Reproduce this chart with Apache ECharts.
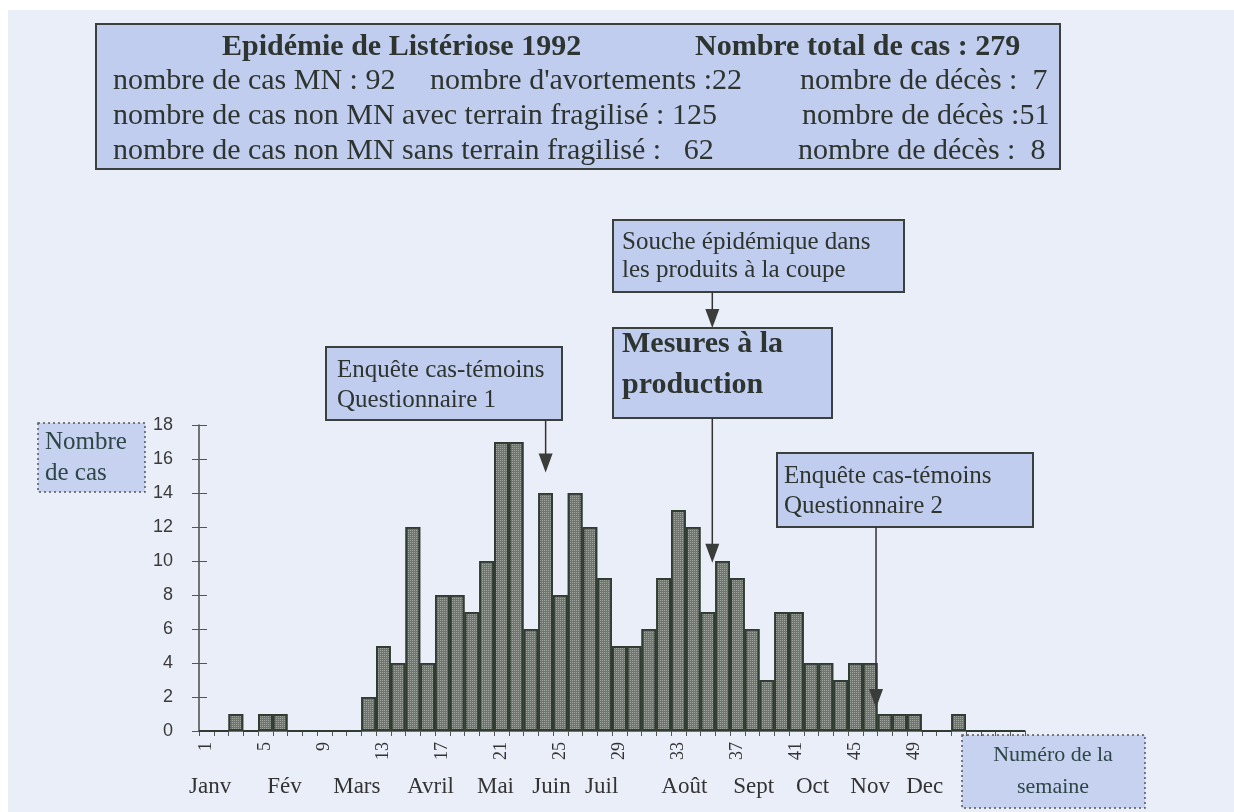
<!DOCTYPE html>
<html>
<head>
<meta charset="utf-8">
<script src="https://cdn.jsdelivr.net/npm/echarts@6/dist/echarts.min.js"></script>
<style>
  html, body { margin: 0; padding: 0; background: #fff; }
  #chart { width: 1234px; height: 812px; }
</style>
</head>
<body>
<div id="chart"></div>
<script>
// semaines 1992 (numéro de la semaine)
const weeks = ['1','2','3','4','5','6','7','8','9','10','11','12','13','14','15','16','17','18','19','20',
  '21','22','23','24','25','26','27','28','29','30','31','32','33','34','35','36','37','38','39','40',
  '41','42','43','44','45','46','47','48','49','50','51','52','53','54','55','56']
// nombre de cas par semaine
const cases = [0,0,1,0,1,1,0,0,0,0, 0,2,5,4,12,4,8,8,7,10, 17,17,6,14,8,14,12,9,5,5,
  6,9,13,12,7,10,9,6,3,7, 7,4,4,3,4,4,1,1,1,0, 0,1,0,0,0,0]
// mois, placés en numéro de semaine
const months = ['Janv','Fév','Mars','Avril','Mai','Juin','Juil','Août','Sept','Oct','Nov','Dec']
const monthWeeks = [1.25, 6.3, 11.2, 16.2, 20.6, 24.4, 27.8, 33.4, 38.1, 42.1, 46.0, 49.7]
// flèches : semaine visée et hauteur de la pointe (en nombre de cas)
const arrowWeeks = [24, 35.3, 46.4]
const arrowTips = [15.2, 9.9, 1.35]

const serif = 'Liberation Serif'
const ink = '#2e342f'
const boxFill = '#c0cdee'

const chart = echarts.init(document.getElementById('chart'))

chart.setOption({
  backgroundColor: '#eaeef8',
  animation: false,
  grid: { left: 199, right: 209, top: 425, bottom: 81 },
  xAxis: {
    type: 'category',
    data: weeks,
    boundaryGap: true,
    axisLine: { lineStyle: { color: '#4a4a4a', width: 1.5 } },
    axisTick: { show: true, interval: 0, length: 5, lineStyle: { color: '#555' } },
    axisLabel: {
      // une étiquette toutes les 4 semaines, jusqu'à 49
      interval: (i) => i % 4 === 0 && i < 52,
      rotate: 90,
      margin: 11,
      fontFamily: serif,
      fontSize: 18,
      color: '#333'
    }
  },
  yAxis: [{
    type: 'value',
    min: 0,
    max: 18,
    interval: 2,
    axisLine: { show: true, lineStyle: { color: '#4a4a4a', width: 1.5 } },
    axisTick: { show: true, length: 7, lineStyle: { color: '#555' } },
    axisLabel: { margin: 26, fontFamily: 'Liberation Sans', fontSize: 18, color: '#3a3a3a' },
    splitLine: { show: false }
  }, {
    type: 'value',
    min: 0,
    max: 18,
    interval: 2,
    position: 'left',
    axisLine: { show: false },
    axisTick: { show: true, inside: true, length: 8, lineStyle: { color: '#555' } },
    axisLabel: { show: false },
    splitLine: { show: false }
  }],
  series: [{
    type: 'bar',
    data: cases,
    barCategoryGap: '0%',
    silent: true,
    itemStyle: {
      color: '#6f766d',
      borderColor: '#303b31',
      borderWidth: 1.8,
      decal: {
        symbol: 'rect',
        symbolSize: 1,
        color: 'rgba(196,202,196,0.55)',
        dashArrayX: [1, 1],
        dashArrayY: [1, 1]
      }
    }
  }]
})

// positions en pixels depuis les axes
const x0 = chart.convertToPixel({ xAxisIndex: 0 }, 0)
const step = chart.convertToPixel({ xAxisIndex: 0 }, 1) - x0
const weekX = w => x0 + (w - 1) * step
const valY = v => chart.convertToPixel({ yAxisIndex: 0 }, v)

function box (x, y, w, h, dotted) {
  return {
    type: 'rect',
    shape: { x: x, y: y, width: w, height: h },
    style: dotted
      ? { fill: '#c7d2f1', stroke: '#555', lineWidth: 1.5, lineDash: [2, 3] }
      : { fill: boxFill, stroke: '#3b403c', lineWidth: 2 }
  }
}

function label (text, x, y, size, opts) {
  opts = opts || {}
  return {
    type: 'text',
    x: x,
    y: y,
    style: {
      text: text,
      fontFamily: serif,
      fontSize: size,
      fontWeight: opts.bold ? 'bold' : 'normal',
      fill: opts.color || ink,
      align: opts.align || 'left',
      verticalAlign: 'middle'
    }
  }
}

function arrow (x, y1, y2) {
  return [{
    type: 'line',
    z: 50,
    shape: { x1: x, y1: y1, x2: x, y2: y2 - 16 },
    style: { stroke: '#333', lineWidth: 1.5 }
  }, {
    type: 'polygon',
    z: 50,
    shape: { points: [[x - 7, y2 - 19], [x + 7, y2 - 19], [x, y2]] },
    style: { fill: '#3a3d3a' }
  }]
}

const elements = [
  { type: 'rect', shape: { x: 0, y: 0, width: 1234, height: 10 }, style: { fill: '#fff' } },
  { type: 'rect', shape: { x: 0, y: 0, width: 8, height: 812 }, style: { fill: '#fff' } },

  // encadré du haut
  box(96, 24, 964, 145),
  label('Epidémie de Listériose 1992', 222, 47, 30, { bold: true }),
  label('Nombre total de cas : 279', 695, 47, 30, { bold: true }),
  label('nombre de cas MN : 92', 113, 81, 30),
  label("nombre d'avortements :22", 430, 81, 30),
  label('nombre de décès :  7', 800, 81, 30),
  label('nombre de cas non MN avec terrain fragilisé : 125', 113, 116, 30),
  label('nombre de décès :51', 802, 116, 30),
  label('nombre de cas non MN sans terrain fragilisé :   62', 113, 151, 30),
  label('nombre de décès :  8', 798, 151, 30),

  // annotations
  box(613, 220, 291, 72),
  label('Souche épidémique dans', 622, 242, 25),
  label('les produits à la coupe', 622, 270, 25),
  box(613, 328, 219, 90),
  label('Mesures à la', 622, 344, 30, { bold: true }),
  label('production', 622, 385, 30, { bold: true }),
  box(326, 347, 236, 73),
  label('Enquête cas-témoins', 337, 370, 25),
  label('Questionnaire 1', 337, 400, 25),
  box(777, 453, 256, 74),
  label('Enquête cas-témoins', 784, 476, 25),
  label('Questionnaire 2', 784, 506, 25),

  // titres des axes
  box(38, 423, 107, 69, true),
  label('Nombre', 45, 442, 25, { color: '#2f4646' }),
  label('de cas', 45, 473, 25, { color: '#2f4646' }),
  box(962, 735, 183, 73, true),
  label('Numéro de la', 1053, 755, 22, { align: 'center', color: '#2f4646' }),
  label('semaine', 1053, 787, 22, { align: 'center', color: '#2f4646' })
]

// flèches
const xMes = weekX(arrowWeeks[1])
elements.push(...arrow(xMes, 292, 328))
elements.push(...arrow(weekX(arrowWeeks[0]), 420, valY(arrowTips[0])))
elements.push(...arrow(xMes, 418, valY(arrowTips[1])))
elements.push(...arrow(weekX(arrowWeeks[2]), 527, valY(arrowTips[2])))

// mois sous l'axe
months.forEach((m, i) => {
  elements.push(label(m, weekX(monthWeeks[i]), 787, 23, { align: 'center', color: '#333' }))
})

chart.setOption({ graphic: { elements: elements } })
</script>
</body>
</html>
